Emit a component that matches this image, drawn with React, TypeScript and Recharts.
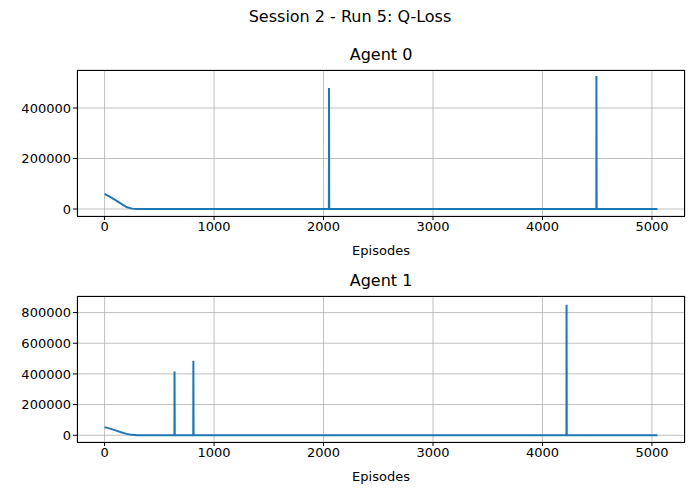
import React from "react";
import { LineChart, Line, XAxis, YAxis, CartesianGrid } from "recharts";

const episodes0 = [0, 50, 100, 150, 200, 250, 300, 2047, 2049, 2050, 2052, 2054, 4490, 4492, 4493, 4495, 4497, 5050];
const loss0 = [60000, 48000, 35000, 21000, 8000, 1500, 500, 300, 300, 479000, 300, 300, 300, 300, 527000, 300, 300, 300];
const episodes1 = [0, 50, 100, 150, 200, 250, 300, 636, 638, 639, 641, 643, 808, 810, 811, 813, 815, 4217, 4219, 4220, 4222, 4224, 5050];
const loss1 = [53000, 43000, 32000, 20000, 9000, 2500, 800, 500, 500, 416000, 500, 500, 500, 500, 486000, 500, 500, 500, 500, 851000, 500, 500, 500];
const xTicks = [0, 1000, 2000, 3000, 4000, 5000];
const yTicks0 = [0, 200000, 400000];
const yTicks1 = [0, 200000, 400000, 600000, 800000];

const data0 = episodes0.map((e, i) => ({ e, v: loss0[i] }));
const data1 = episodes1.map((e, i) => ({ e, v: loss1[i] }));
const font = "DejaVu Sans, sans-serif";
const tickStyle = { fontSize: 13, fill: "#000", fontFamily: font };

function Panel({ data, yTicks, yDomain, top, bottom, height }: any) {
  return (
    <div style={{ position: "absolute", left: 0, top: 0 }}>
      <LineChart width={700} height={height} data={data} margin={{ top, right: 15, bottom: bottom, left: 0 }}>
        <CartesianGrid stroke="#b0b0b0" strokeWidth={0.8} />
        <XAxis dataKey="e" type="number" domain={[-252, 5302]} ticks={xTicks} allowDataOverflow
          tick={tickStyle} tickSize={4} height={34} stroke="#000" tickLine={{ stroke: "#000" }} axisLine={false} />
        <YAxis type="number" domain={yDomain} ticks={yTicks} allowDataOverflow width={77}
          tick={tickStyle} tickSize={4} stroke="#000" axisLine={false} />
        <Line dataKey="v" stroke="#1f77b4" strokeWidth={2} dot={false} isAnimationActive={false} />
      </LineChart>
    </div>
  );
}

const box = (top: number, h: number): React.CSSProperties => ({
  position: "absolute", left: 77, top, width: 608, height: h, border: "1px solid #000", boxSizing: "border-box", pointerEvents: "none",
});
const txt = (top: number, size: number): React.CSSProperties => ({
  position: "absolute", left: 0, width: 700, top, textAlign: "center", fontSize: size, fontFamily: font, lineHeight: 1,
});

export default function App() {
  return (
    <div style={{ position: "fixed", left: 0, top: 0, width: 700, height: 500, background: "#fff" }}>
      <Panel data={data0} yTicks={yTicks0} yDomain={[-27700, 550500]} top={70} bottom={0} height={250} />
      <Panel data={data1} yTicks={yTicks1} yDomain={[-44000, 908000]} top={296} bottom={24} height={500} />
      <div style={box(70, 147)} />
      <div style={box(296, 147)} />
      <div style={{ ...txt(9, 16) }}>Session 2 - Run 5: Q-Loss</div>
      <div style={{ ...txt(47, 16), left: 77, width: 608 }}>Agent 0</div>
      <div style={{ ...txt(273, 16), left: 77, width: 608 }}>Agent 1</div>
      <div style={{ ...txt(244, 13), left: 77, width: 608 }}>Episodes</div>
      <div style={{ ...txt(470, 13), left: 77, width: 608 }}>Episodes</div>
    </div>
  );
}
